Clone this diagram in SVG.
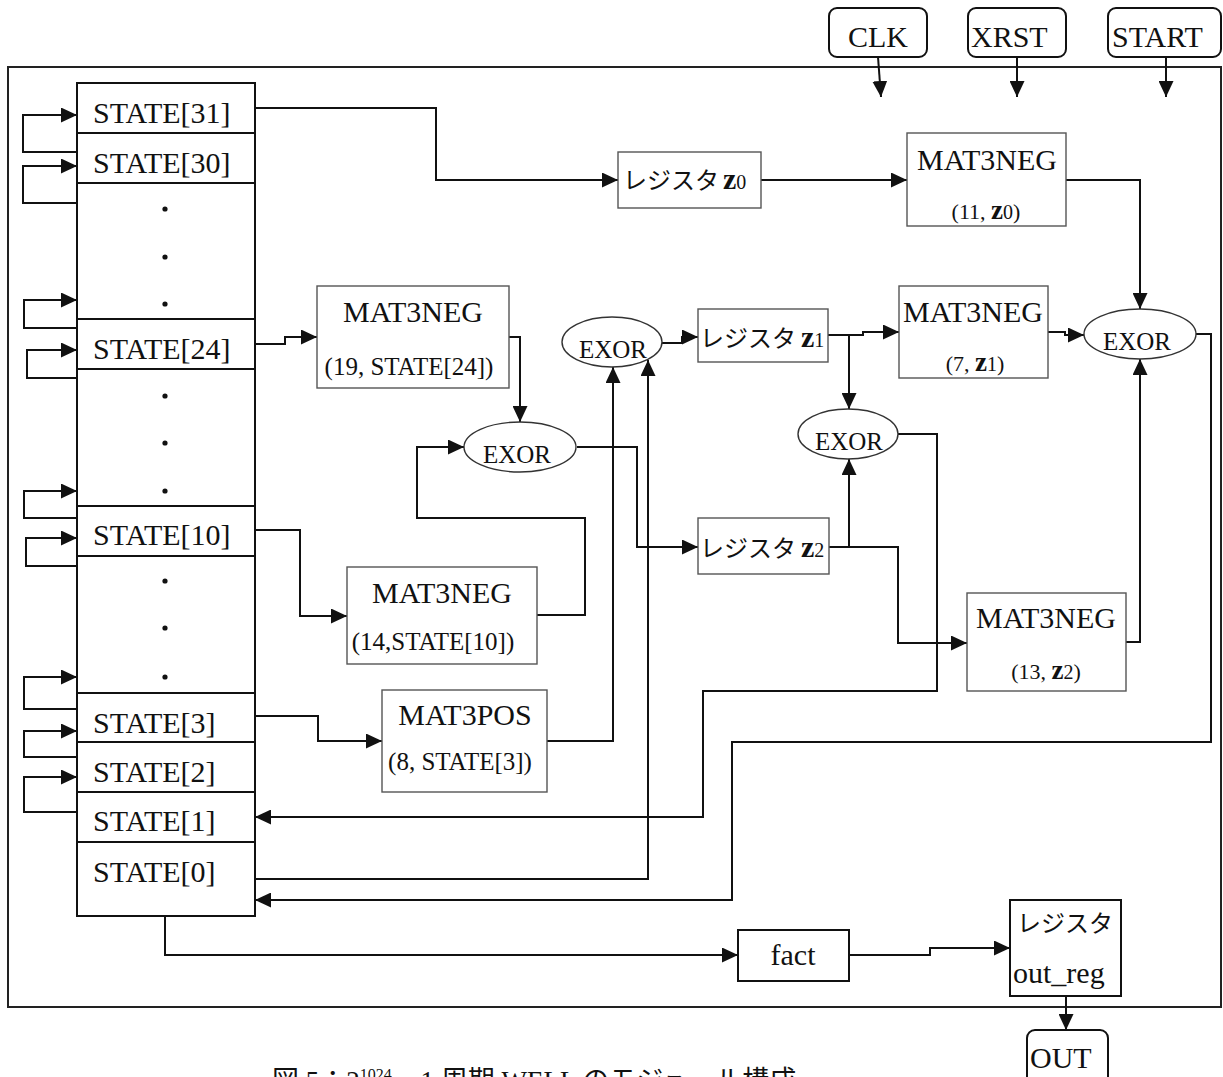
<svg xmlns="http://www.w3.org/2000/svg" width="1223" height="1077" viewBox="0 0 1223 1077">
<style>
  .frame{fill:none;stroke:#222;stroke-width:2}
  .cell{fill:#fff;stroke:#111;stroke-width:2}
  .box{fill:#fff;stroke:#555;stroke-width:1.4}
  .ell{fill:#fff;stroke:#333;stroke-width:1.4}
  .io{fill:#fff;stroke:#111;stroke-width:2}
  .ca{fill:none;stroke:#111;stroke-width:2;marker-end:url(#ah)}
  text{font-family:"Liberation Serif","Noto Sans CJK JP",serif;fill:#111}
  .st{font-size:30px}
  .lb{font-size:30px}
  .sm{font-size:22px}
  .md{font-size:25px}
  .ex{font-size:25px}
  .jp{font-family:"Noto Sans CJK JP","Liberation Sans",sans-serif;font-size:24px}
  .zz{font-size:30px;font-weight:bold}
  .zs{font-size:27px;font-weight:bold}
  .sub{font-size:20px}
  .cap{font-family:"Liberation Serif","Noto Sans CJK JP",serif;font-size:27px}
</style>
<defs>
  <marker id="ah" markerUnits="userSpaceOnUse" markerWidth="16" markerHeight="15" refX="16" refY="7.5" orient="auto">
    <path d="M0,0 L16,7.5 L0,15 z" fill="#111"/>
  </marker>
</defs>
<rect width="1223" height="1077" fill="#fff"/>
<rect class="frame" x="8" y="67" width="1213" height="940"/>

<g id="connectors">
  <path class="ca" d="M77,152 H23 V115 H77"/>
  <path class="ca" d="M77,203 H23 V166 H77"/>
  <path class="ca" d="M77,328 H24 V300 H77"/>
  <path class="ca" d="M77,378 H27 V350 H77"/>
  <path class="ca" d="M77,518 H24 V491 H77"/>
  <path class="ca" d="M77,566 H26 V538 H77"/>
  <path class="ca" d="M77,709 H24 V677 H77"/>
  <path class="ca" d="M77,757 H24 V731 H77"/>
  <path class="ca" d="M77,812 H24 V777 H77"/>
  <path class="ca" d="M878,57 L881,97"/>
  <path class="ca" d="M1017,57 V97"/>
  <path class="ca" d="M1166,57 V97"/>
  <path class="ca" d="M255,108 H436 V180 H618"/>
  <path class="ca" d="M761,180 H907"/>
  <path class="ca" d="M1066,180 H1140 V309"/>
  <path class="ca" d="M255,344 H285 V337 H317"/>
  <path class="ca" d="M509,337 H520 V422"/>
  <path class="ca" d="M537,615 H585 V518 H417 V447 H464"/>
  <path class="ca" d="M255,530 H300 V616 H347"/>
  <path class="ca" d="M255,716 H318 V741 H382"/>
  <path class="ca" d="M547,741 H613 V367"/>
  <path class="ca" d="M255,879 H648 V360"/>
  <path class="ca" d="M662,343 H682 V337 H698"/>
  <path class="ca" d="M828,335 H863 V332 H899"/>
  <path class="ca" d="M849,335 V409"/>
  <path class="ca" d="M577,447 H637 V547 H698"/>
  <path class="ca" d="M849,547 V459"/>
  <path class="ca" d="M829,547 H898 V643 H967"/>
  <path class="ca" d="M1126,642 H1140 V359"/>
  <path class="ca" d="M1048,332 H1065 V335 H1084"/>
  <path class="ca" d="M898,434 H937 V691 H703 V817 H255"/>
  <path class="ca" d="M1196,334 H1211 V742 H732 V900 H255"/>
  <path class="ca" d="M165,916 V955 H738"/>
  <path class="ca" d="M849,955 H930 V948 H1010"/>
  <path class="ca" d="M1066,996 V1030"/>
</g>

<g id="state-column">
  <rect class="cell" x="77" y="83" width="178" height="50"/>
  <rect class="cell" x="77" y="133" width="178" height="50"/>
  <rect class="cell" x="77" y="183" width="178" height="136"/>
  <rect class="cell" x="77" y="319" width="178" height="50"/>
  <rect class="cell" x="77" y="369" width="178" height="137"/>
  <rect class="cell" x="77" y="506" width="178" height="50"/>
  <rect class="cell" x="77" y="556" width="178" height="137"/>
  <rect class="cell" x="77" y="693" width="178" height="49"/>
  <rect class="cell" x="77" y="742" width="178" height="50"/>
  <rect class="cell" x="77" y="792" width="178" height="50"/>
  <rect class="cell" x="77" y="842" width="178" height="74"/>
  <text class="st" x="93" y="123">STATE[31]</text>
  <text class="st" x="93" y="173">STATE[30]</text>
  <text class="st" x="93" y="359">STATE[24]</text>
  <text class="st" x="93" y="545">STATE[10]</text>
  <text class="st" x="93" y="733">STATE[3]</text>
  <text class="st" x="93" y="782">STATE[2]</text>
  <text class="st" x="93" y="831">STATE[1]</text>
  <text class="st" x="93" y="882">STATE[0]</text>
  <g fill="#111">
    <circle cx="165" cy="209" r="2.6"/><circle cx="165" cy="257" r="2.6"/><circle cx="165" cy="304" r="2.6"/>
    <circle cx="165" cy="396" r="2.6"/><circle cx="165" cy="443" r="2.6"/><circle cx="165" cy="491" r="2.6"/>
    <circle cx="165" cy="581" r="2.6"/><circle cx="165" cy="628" r="2.6"/><circle cx="165" cy="677" r="2.6"/>
  </g>
</g>

<g id="clk">
  <rect class="io" x="829" y="8" width="98" height="49" rx="8"/>
  <text class="lb" x="878" y="47" text-anchor="middle">CLK</text>
</g>
<g id="xrst">
  <rect class="io" x="968" y="8" width="98" height="49" rx="8"/>
  <text class="lb" x="971" y="47">XRST</text>
</g>
<g id="start">
  <rect class="io" x="1108" y="8" width="113" height="49" rx="8"/>
  <text class="lb" x="1112" y="47">START</text>
</g>

<g id="reg-z0">
  <rect class="box" x="618" y="152" width="143" height="56"/>
  <text x="623" y="189"><tspan class="jp">レジスタ</tspan><tspan class="zz" x="723">z</tspan><tspan class="sub">0</tspan></text>
</g>
<g id="mat3neg-11">
  <rect class="box" x="907" y="133" width="159" height="93"/>
  <text class="lb" x="987" y="170" text-anchor="middle">MAT3NEG</text>
  <text class="sm" x="986" y="219" text-anchor="middle">(11, <tspan class="zs">z</tspan><tspan class="sub">0</tspan>)</text>
</g>
<g id="mat3neg-19">
  <rect class="box" x="317" y="286" width="192" height="102"/>
  <text class="lb" x="413" y="322" text-anchor="middle">MAT3NEG</text>
  <text class="md" x="409" y="375" text-anchor="middle">(19, STATE[24])</text>
</g>
<g id="mat3neg-14">
  <rect class="box" x="347" y="567" width="190" height="97"/>
  <text class="lb" x="442" y="603" text-anchor="middle">MAT3NEG</text>
  <text class="md" x="433" y="650" text-anchor="middle">(14,STATE[10])</text>
</g>
<g id="mat3pos-8">
  <rect class="box" x="382" y="690" width="165" height="102"/>
  <text class="lb" x="465" y="725" text-anchor="middle">MAT3POS</text>
  <text class="md" x="460" y="770" text-anchor="middle">(8, STATE[3])</text>
</g>
<g id="exor-a">
  <ellipse class="ell" cx="612" cy="342" rx="50" ry="25"/>
  <text class="ex" x="613" y="358" text-anchor="middle">EXOR</text>
</g>
<g id="exor-b">
  <ellipse class="ell" cx="520" cy="447" rx="56" ry="25"/>
  <text class="ex" x="517" y="463" text-anchor="middle">EXOR</text>
</g>
<g id="reg-z1">
  <rect class="box" x="698" y="309" width="130" height="53"/>
  <text x="700" y="347"><tspan class="jp">レジスタ</tspan><tspan class="zz" x="801">z</tspan><tspan class="sub">1</tspan></text>
</g>
<g id="reg-z2">
  <rect class="box" x="698" y="518" width="131" height="56"/>
  <text x="700" y="557"><tspan class="jp">レジスタ</tspan><tspan class="zz" x="801">z</tspan><tspan class="sub">2</tspan></text>
</g>
<g id="mat3neg-7">
  <rect class="box" x="899" y="286" width="149" height="92"/>
  <text class="lb" x="973" y="322" text-anchor="middle">MAT3NEG</text>
  <text class="sm" x="975" y="371" text-anchor="middle">(7, <tspan class="zs">z</tspan><tspan class="sub">1</tspan>)</text>
</g>
<g id="exor-c">
  <ellipse class="ell" cx="848" cy="434" rx="50" ry="25"/>
  <text class="ex" x="849" y="450" text-anchor="middle">EXOR</text>
</g>
<g id="exor-d">
  <ellipse class="ell" cx="1140" cy="334" rx="56" ry="25"/>
  <text class="ex" x="1137" y="350" text-anchor="middle">EXOR</text>
</g>
<g id="mat3neg-13">
  <rect class="box" x="967" y="593" width="159" height="98"/>
  <text class="lb" x="1046" y="628" text-anchor="middle">MAT3NEG</text>
  <text class="sm" x="1046" y="679" text-anchor="middle">(13, <tspan class="zs">z</tspan><tspan class="sub">2</tspan>)</text>
</g>
<g id="fact">
  <rect class="cell" x="738" y="930" width="111" height="51"/>
  <text class="lb" x="793" y="965" text-anchor="middle">fact</text>
</g>
<g id="out-reg">
  <rect class="cell" x="1010" y="900" width="111" height="96"/>
  <text class="jp" x="1017" y="932">レジスタ</text>
  <text class="lb" x="1013" y="983">out_reg</text>
</g>
<g id="out">
  <rect class="io" x="1027" y="1030" width="81" height="60" rx="8"/>
  <text class="lb" x="1030" y="1068">OUT</text>
</g>

<text class="cap" x="272" y="1090">図 5：2<tspan font-size="16" dy="-10">1024</tspan><tspan dy="10"> − 1 周期 WELL のモジュール構成</tspan></text>
</svg>
